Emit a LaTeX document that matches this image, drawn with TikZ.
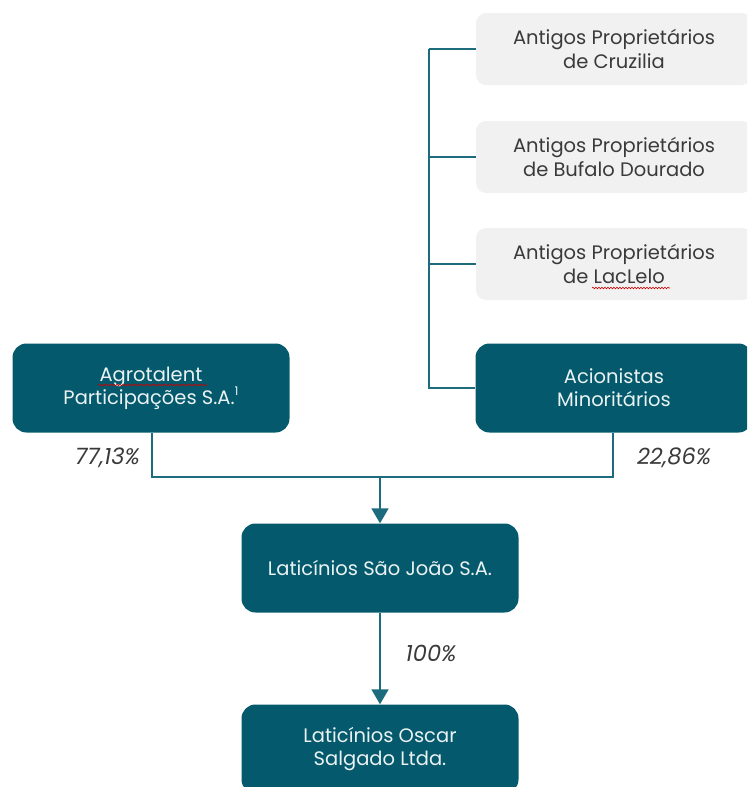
\documentclass[tikz,border=0pt]{standalone}
\usepackage{fontspec}
\setmainfont{Poppins}
\usetikzlibrary{arrows.meta,decorations.pathmorphing}
\definecolor{teal}{HTML}{045A6C}
\definecolor{lineteal}{HTML}{1C6C7E}
\definecolor{graybox}{HTML}{F1F1F1}
\definecolor{graytext}{HTML}{3A3A3A}
\begin{document}
\begin{tikzpicture}[x=1pt,y=-1pt,
  darkbox/.style={fill=teal,rounded corners=14pt,minimum width=277pt,minimum height=89pt,
    text=white!92!teal,align=center,font=\fontsize{19.5}{23}\selectfont,inner sep=0pt},
  lightbox/.style={fill=graybox,rounded corners=10pt,minimum width=276pt,minimum height=72pt,
    text=graytext,align=center,font=\fontsize{19.5}{24}\selectfont,inner sep=0pt},
  conn/.style={draw=lineteal,line width=1.8pt},
  arr/.style={conn,-{Triangle[width=17pt,length=15pt]}},
  pct/.style={text=graytext,font=\fontsize{22.5}{26}\selectfont\itshape,inner sep=0pt},
  squig/.style={draw=red!80!black,line width=0.6pt,decorate,decoration={snake,amplitude=0.8pt,segment length=3pt}}]
\useasboundingbox (0,0) rectangle (747,787);
\clip (0,0) rectangle (747,787);
\node[lightbox] (g1) at (614,49) {Antigos Proprietários\\de Cruzilia};
\node[lightbox] (g2) at (614,157) {Antigos Proprietários\\de Bufalo Dourado};
\node[lightbox] (g3) at (614,264) {Antigos Proprietários\\de LacLelo};
\node[darkbox] (ac) at (614,388) {Acionistas\\Minoritários};
\node[darkbox] (ag) at (151,388) {Agrotalent\\Participações S.A.\raisebox{0.45em}{\fontsize{12}{12}\selectfont 1}};
\node[darkbox] (sj) at (380,568) {Laticínios São João S.A.};
\node[darkbox] (os) at (380,749) {Laticínios Oscar\\Salgado Ltda.};
\coordinate (vt) at (429,49);
\coordinate (vb) at (429,388);
\draw[conn] (vt) -- (g1.west);
\draw[conn] (429,157) -- (g2.west);
\draw[conn] (429,264) -- (g3.west);
\draw[conn] (vt) -- (vb) -- (ac.west);
\coordinate (jl) at (152,477);
\coordinate (jr) at (613,477);
\coordinate (jm) at (380,477);
\draw[conn] (ag.south -| jl) -- (jl) -- (jr) -- (ac.south -| jr);
\draw[arr] (jm) -- (sj.north);
\draw[arr] (sj.south) -- (os.north);
\node[pct,anchor=east] (p1) at (140,458) {77,13\%};
\node[pct] (p2) at (674,458) {22,86\%};
\node[pct] (p3) at (431,653) {100\%};
\draw[squig] (98,385) -- (207,385);
\draw[squig] (592,288) -- (670,288);
\end{tikzpicture}
\end{document}
